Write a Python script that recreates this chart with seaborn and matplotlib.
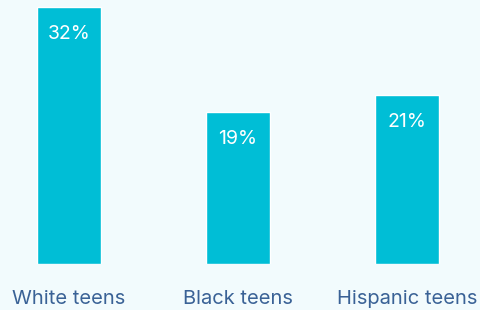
import matplotlib
matplotlib.use("Agg")
import matplotlib.pyplot as plt
import seaborn as sns
import pandas as pd

categories = ["White teens", "Black teens", "Hispanic teens"]
values = [32, 19, 21]
value_labels = ["32%", "19%", "21%"]

BG = "#f2fbfd"
BAR = "#00bed6"
TXT = "#3a6296"

sns.set_theme(style="white")
plt.rcParams["font.family"] = ["Inter", "DejaVu Sans"]

df = pd.DataFrame({"group": categories, "pct": values})

fig = plt.figure(figsize=(4.8, 3.1), dpi=100, facecolor=BG)
ax = fig.add_axes([0, 46 / 310, 1, 264 / 310])
ax.set_facecolor(BG)
sns.barplot(data=df, x="group", y="pct", color=BAR, saturation=1, width=0.379, ax=ax)
ax.set_xlim(-69 / 169, (480 - 69) / 169)
ax.set_ylim(0, 32.9)
for s in ax.spines.values():
    s.set_visible(False)
ax.set_yticks([])
ax.set_xlabel("")
ax.set_ylabel("")
ax.tick_params(axis="x", length=0, pad=19, labelsize=14.5, labelcolor=TXT)

for i, (v, lab) in enumerate(zip(values, value_labels)):
    ax.annotate(lab, xy=(i, v), xytext=(0, -27), textcoords="offset pixels",
                ha="center", va="center", color="white", fontsize=14)

fig.savefig("out.png", dpi=100, facecolor=BG)
